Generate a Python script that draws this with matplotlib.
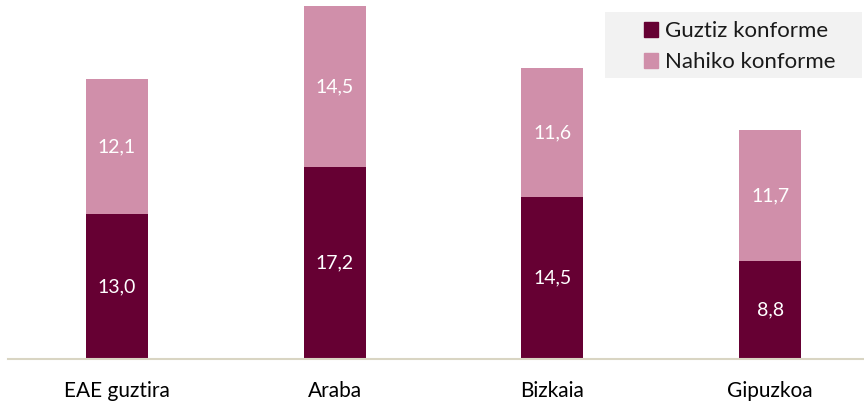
import matplotlib
matplotlib.use("Agg")
import matplotlib.pyplot as plt
from matplotlib.patches import Patch, Rectangle

categories = ["EAE guztira", "Araba", "Bizkaia", "Gipuzkoa"]
guztiz = [13.0, 17.2, 14.5, 8.8]
nahiko = [12.1, 14.5, 11.6, 11.7]
series_names = ["Guztiz konforme", "Nahiko konforme"]

dark = "#660033"
pink = "#D08FAA"

plt.rcParams['font.family'] = ['Lato', 'DejaVu Sans']

W, H = 864, 405
fig = plt.figure(figsize=(W / 100, H / 100), dpi=100)
ax = fig.add_axes([8 / W, 46 / H, 856 / W, 359 / H])

x = list(range(len(categories)))
w = 0.285
ax.bar(x, guztiz, width=w, color=dark)
ax.bar(x, nahiko, width=w, bottom=guztiz, color=pink)

for i in x:
    ax.text(i, guztiz[i] / 2, f"{guztiz[i]:.1f}".replace(".", ","),
            ha="center", va="center", color="white", fontsize=14)
    ax.text(i, guztiz[i] + nahiko[i] / 2, f"{nahiko[i]:.1f}".replace(".", ","),
            ha="center", va="center", color="white", fontsize=14)

ax.set_xlim(-0.5, 3.431)
ax.set_ylim(0, 32.2)
ax.set_yticks([])
ax.set_xticks(x)
ax.set_xticklabels(categories, fontsize=15, color="#000000")
ax.tick_params(axis="x", length=0, pad=16)
for s in ["top", "right", "left"]:
    ax.spines[s].set_visible(False)
ax.spines["bottom"].set_color("#D9D5C3")
ax.spines["bottom"].set_linewidth(1.5)

# legend background box
fig.patches.append(Rectangle((605 / W, 1 - 78 / H), 257 / W, 66 / H,
                             transform=fig.transFigure, facecolor="#F2F2F2",
                             edgecolor="none", zorder=0))

handles = [Patch(color=dark), Patch(color=pink)]
leg = fig.legend(handles, series_names, loc="upper left",
                 bbox_to_anchor=(644 / W, 1 - 21 / H),
                 frameon=False, fontsize=16, handlelength=0.65, handleheight=0.65,
                 handletextpad=0.3, borderpad=0, labelspacing=0.5,
                 borderaxespad=0)
for t in leg.get_texts():
    t.set_color("#1a1a1a")

fig.savefig("out.png", dpi=100)
